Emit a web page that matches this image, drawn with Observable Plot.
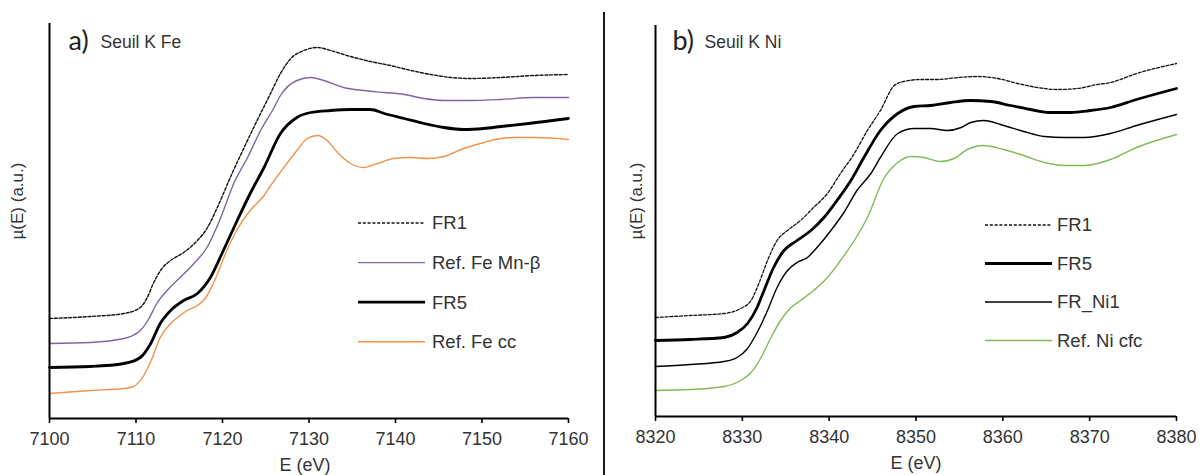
<!DOCTYPE html>
<html><head><meta charset="utf-8">
<script src="https://cdn.jsdelivr.net/npm/d3@7"></script>
<script src="https://cdn.jsdelivr.net/npm/@observablehq/plot@0.6"></script>
<style>
html,body{margin:0;padding:0;background:#fff;}
#wrap{position:relative;width:1200px;height:475px;overflow:hidden;font-family:"Liberation Sans",Arial,sans-serif;}
.panel{position:absolute;top:0;width:600px;height:475px;}
#left{left:0}
#right{left:600px}
.overlay{position:absolute;left:0;top:0;pointer-events:none;}
#sep{position:absolute;left:603px;top:12px;width:2px;height:463px;background:#1a1a1a;}
</style></head><body>
<div id="wrap"><div id="left" class="panel"></div><div id="right" class="panel"></div><div id="sep"></div></div>
<script>
// ---------- data ----------
const ticksFe = [7100, 7110, 7120, 7130, 7140, 7150, 7160];
const ticksNi = [8320, 8330, 8340, 8350, 8360, 8370, 8380];

// a) Seuil K Fe
const feFR1_E  = [7100,7104.7,7108.6,7110.5,7111.3,7112.0,7113.0,7114.0,7115.5,7117.1,7118.2,7119.4,7120.9,7122.5,7124.0,7125.5,7126.7,7127.9,7129.4,7131.0,7132.5,7134.8,7137.1,7139.4,7141.8,7144.1,7146.4,7148.7,7152.2,7156.0,7160];
const feFR1_mu = [1.00,1.02,1.05,1.11,1.21,1.35,1.50,1.58,1.66,1.78,1.90,2.11,2.41,2.71,2.98,3.24,3.45,3.60,3.68,3.71,3.68,3.62,3.57,3.53,3.48,3.44,3.41,3.40,3.41,3.43,3.44];

const feMn_E  = [7100,7104.7,7108.6,7110.5,7111.5,7112.4,7113.6,7115.1,7116.7,7118.2,7119.8,7121.3,7122.9,7124.4,7125.9,7126.7,7128.6,7130.2,7131.7,7134.0,7136.3,7138.7,7141.0,7143.3,7145.6,7148.7,7152.2,7156.0,7160];
const feMn_mu = [0.75,0.76,0.80,0.88,1.00,1.15,1.28,1.41,1.55,1.71,2.01,2.35,2.61,2.88,3.10,3.23,3.38,3.41,3.38,3.31,3.28,3.26,3.24,3.20,3.18,3.18,3.19,3.21,3.21];

const feFR5_E  = [7100,7104.7,7108.6,7110.5,7111.7,7112.8,7114.0,7115.5,7117.1,7118.6,7120.1,7121.7,7123.2,7124.8,7126.7,7128.6,7130.2,7132.5,7134.8,7137.1,7138.7,7141.0,7143.3,7145.6,7147.9,7150.2,7152.2,7155.4,7160];
const feFR5_mu = [0.51,0.52,0.55,0.61,0.75,0.95,1.08,1.18,1.25,1.41,1.68,1.98,2.25,2.51,2.85,3.01,3.06,3.08,3.09,3.09,3.05,3.00,2.95,2.91,2.89,2.90,2.92,2.95,3.00];

const feCC_E  = [7100,7104.7,7108.6,7109.7,7110.9,7111.9,7112.8,7114.0,7115.1,7115.9,7117.1,7118.0,7119.0,7120.5,7121.7,7123.2,7124.8,7125.5,7127.1,7128.6,7129.8,7131.0,7132.1,7133.3,7134.8,7136.3,7137.9,7139.8,7141.8,7143.7,7145.6,7147.9,7150.2,7152.2,7154.0,7156.3,7160];
const feCC_mu = [0.25,0.28,0.30,0.32,0.43,0.61,0.81,0.95,1.03,1.08,1.13,1.20,1.36,1.68,1.89,2.08,2.23,2.32,2.51,2.68,2.80,2.83,2.78,2.66,2.55,2.51,2.55,2.60,2.61,2.60,2.62,2.70,2.76,2.80,2.81,2.81,2.79];

// b) Seuil K Ni
const niFR1_E  = [8320,8324.0,8327.9,8329.8,8331.0,8331.9,8332.9,8334.0,8335.2,8336.7,8338.2,8339.8,8341.3,8342.9,8344.4,8345.9,8347.5,8348.6,8350.5,8352.5,8354.8,8357.1,8359.4,8361.7,8364.0,8366.3,8368.6,8370.9,8372.4,8375.4,8380];
const niFR1_mu = [0.99,1.01,1.03,1.08,1.16,1.33,1.56,1.76,1.86,1.96,2.09,2.23,2.43,2.63,2.86,3.06,3.31,3.35,3.37,3.37,3.39,3.40,3.38,3.33,3.29,3.27,3.28,3.32,3.34,3.43,3.53];

const niFR5_E  = [8320,8324.0,8327.9,8329.4,8330.6,8331.7,8332.5,8333.6,8334.8,8336.3,8337.9,8339.4,8340.9,8342.5,8344.0,8345.9,8347.9,8349.8,8351.7,8354.0,8356.3,8358.6,8360.9,8363.2,8365.5,8367.8,8370.1,8372.4,8375.4,8380];
const niFR5_mu = [0.76,0.77,0.79,0.84,0.93,1.09,1.26,1.49,1.66,1.76,1.86,1.99,2.16,2.36,2.59,2.86,3.03,3.10,3.11,3.14,3.16,3.15,3.11,3.07,3.04,3.04,3.06,3.09,3.17,3.28];

const niNi1_E  = [8320,8324.0,8327.9,8329.4,8330.6,8331.7,8332.9,8334.0,8335.2,8336.3,8337.5,8338.6,8340.2,8341.7,8343.2,8344.8,8345.9,8347.9,8349.8,8351.7,8353.6,8355.2,8356.3,8357.8,8360.1,8362.4,8364.8,8367.1,8369.4,8372.4,8375.4,8380];
const niNi1_mu = [0.50,0.52,0.55,0.59,0.68,0.84,1.06,1.29,1.46,1.54,1.59,1.69,1.86,2.04,2.26,2.43,2.59,2.83,2.88,2.88,2.86,2.89,2.94,2.96,2.91,2.85,2.80,2.79,2.79,2.83,2.91,3.02];

const niCfc_E  = [8320,8324.0,8327.9,8329.8,8331.0,8332.1,8333.3,8334.4,8335.6,8336.7,8338.2,8339.8,8341.3,8342.9,8344.4,8346.3,8347.9,8349.4,8350.9,8352.8,8354.4,8355.9,8357.8,8360.1,8362.4,8364.8,8367.1,8369.4,8372.4,8375.4,8380];
const niCfc_mu = [0.26,0.27,0.30,0.36,0.44,0.58,0.79,0.96,1.09,1.16,1.26,1.39,1.56,1.76,1.99,2.38,2.54,2.60,2.59,2.55,2.58,2.67,2.71,2.67,2.61,2.54,2.51,2.51,2.57,2.69,2.82];

const seriesFe = [
  {name: "FR1",           E: feFR1_E, mu: feFR1_mu, stroke: "#111", width: 1.4, dash: "3,1.8"},
  {name: "Ref. Fe Mn-\u03b2", E: feMn_E,  mu: feMn_mu,  stroke: "#8064A2", width: 1.4, dash: null},
  {name: "FR5",           E: feFR5_E, mu: feFR5_mu, stroke: "#000", width: 2.8, dash: null},
  {name: "Ref. Fe cc",    E: feCC_E,  mu: feCC_mu,  stroke: "#F0924C", width: 1.4, dash: null}
];
const seriesNi = [
  {name: "FR1",         E: niFR1_E, mu: niFR1_mu, stroke: "#111", width: 1.3, dash: "3,1.8"},
  {name: "FR5",         E: niFR5_E, mu: niFR5_mu, stroke: "#000", width: 2.8, dash: null},
  {name: "FR_Ni1",      E: niNi1_E, mu: niNi1_mu, stroke: "#000", width: 1.4, dash: null},
  {name: "Ref. Ni cfc", E: niCfc_E, mu: niCfc_mu, stroke: "#84B957", width: 1.4, dash: null}
];

// ---------- drawing ----------
const FONT = '"Liberation Sans", Arial, sans-serif';

function drawPanel(sel, cfg) {
  const m = cfg.margin;
  const marks = [];
  for (const s of cfg.series) {
    const rows = s.E.map((e, i) => ({E: e, mu: s.mu[i]}));
    marks.push(Plot.line(rows, {x: "E", y: "mu", stroke: s.stroke, strokeWidth: s.width,
      strokeDasharray: s.dash || undefined, curve: "monotone-x"}));
  }
  marks.push(Plot.ruleY([cfg.yDomain[0]], {stroke: "#000", strokeWidth: 2}));
  marks.push(Plot.ruleX([cfg.xDomain[0]], {stroke: "#000", strokeWidth: 2}));
  marks.push(Plot.axisX(cfg.ticks, {tickSize: 5, tickPadding: 9, fontSize: 18, strokeWidth: 1.6,
    stroke: "#000", fill: "#333", label: null, tickFormat: d => String(d)}));
  marks.push(Plot.text(["E (eV)"], {frameAnchor: "bottom", textAnchor: "middle", lineAnchor: "middle",
    dy: 47, dx: cfg.xLabelDx, fontSize: 18, fill: "#333"}));
  marks.push(Plot.text(["\u00b5(E) (a.u.)"], {frameAnchor: "left", textAnchor: "middle", lineAnchor: "middle",
    rotate: -90, dx: cfg.yLabelDx, dy: -20, fontSize: 17, fill: "#333"}));
  marks.push(Plot.text([cfg.tag], {frameAnchor: "top-left", textAnchor: "start", lineAnchor: "middle",
    dx: cfg.tagDx, dy: cfg.titleDy, fontSize: 27, fontFamily: "Lato", fill: "#222"}));
  marks.push(Plot.text([cfg.title], {frameAnchor: "top-left", textAnchor: "start", lineAnchor: "middle",
    dx: cfg.titleDx, dy: cfg.titleDy + 1, fontSize: 17.5, fill: "#333"}));

  const chart = Plot.plot({
    width: 600, height: 475,
    marginTop: m.top, marginRight: m.right, marginBottom: m.bottom, marginLeft: m.left,
    x: {domain: cfg.xDomain},
    y: {domain: cfg.yDomain, axis: null},
    style: {fontFamily: FONT, fontSize: "17px", background: "white", color: "#000"},
    marks
  });
  const host = document.querySelector(sel);
  host.appendChild(chart);

  // legend overlay (layout only)
  const L = cfg.legend;
  const svg = d3.select(host).append("svg").attr("class", "overlay").attr("width", 600).attr("height", 475);
  cfg.series.forEach((s, i) => {
    const y = L.y0 + i * L.step;
    svg.append("line").attr("x1", L.x1).attr("x2", L.x2).attr("y1", y).attr("y2", y)
      .attr("stroke", s.stroke).attr("stroke-width", s.width)
      .attr("stroke-dasharray", s.dash || null);
    svg.append("text").attr("x", L.tx).attr("y", y).attr("dy", "0.35em")
      .attr("font-family", FONT).attr("font-size", 18.5).attr("fill", "#333").text(s.name);
  });
}

drawPanel("#left", {
  series: seriesFe, ticks: ticksFe, xDomain: [7100, 7160], yDomain: [0, 3.95],
  margin: {top: 23, right: 32, bottom: 57, left: 49},
  tag: "a)", title: "Seuil K Fe", tagDx: 19, titleDx: 51, titleDy: 18,
  xLabelDx: -4, yLabelDx: -32,
  legend: {x1: 358, x2: 425, tx: 432, y0: 223, step: 39.6}
});
drawPanel("#right", {
  series: seriesNi, ticks: ticksNi, xDomain: [8320, 8380], yDomain: [0, 3.91],
  margin: {top: 25, right: 24, bottom: 59, left: 55},
  tag: "b)", title: "Seuil K Ni", tagDx: 17, titleDx: 49, titleDy: 16,
  xLabelDx: 0, yLabelDx: -19,
  legend: {x1: 385, x2: 452, tx: 457, y0: 225, step: 38.5}
});
</script>
</body></html>
